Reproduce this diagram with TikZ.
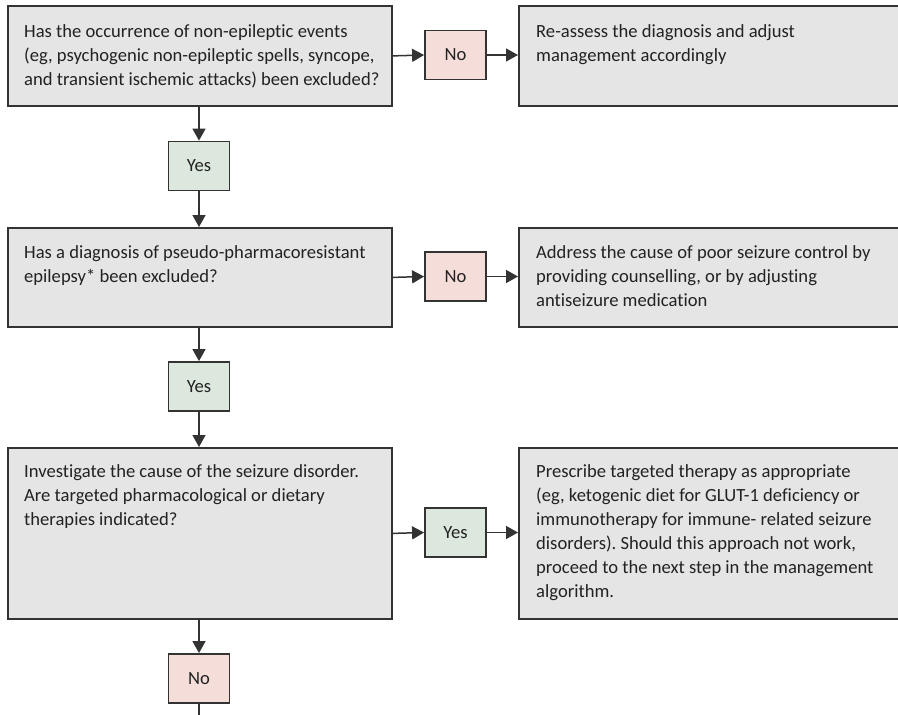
\documentclass[tikz,border=0pt]{standalone}
\usepackage{fontspec}
\setmainfont{Carlito}[Ligatures={NoCommon,NoContextual,NoRare}]
\usetikzlibrary{arrows.meta,calc}
\frenchspacing
\definecolor{boxgray}{HTML}{E4E5E4}
\definecolor{yesgreen}{HTML}{DCE7DE}
\definecolor{nopink}{HTML}{F5DEDA}
\definecolor{edgecol}{HTML}{333333}
\definecolor{txtcol}{HTML}{222222}
\newcommand{\boxtext}[1]{\parbox[t]{360pt}{\raggedright\fontsize{18.6}{24}\selectfont #1}}
\begin{document}
\begin{tikzpicture}[x=1pt,y=-1pt,
  bigbox/.style={draw=edgecol,line width=1.8pt,fill=boxgray,anchor=north west,inner sep=0pt},
  choice/.style={draw=edgecol,line width=1.8pt,minimum width=61pt,minimum height=49pt,inner sep=0pt,
    text=txtcol,font=\fontsize{18.6}{22}\selectfont},
  yesbox/.style={choice,fill=yesgreen},
  nobox/.style={choice,fill=nopink},
  boxtxt/.style={anchor=base west,inner sep=0pt,text=txtcol},
  conn/.style={draw=edgecol,line width=1.5pt,-{Triangle[length=12pt,width=13pt]}},
  plain/.style={draw=edgecol,line width=1.5pt}]
\useasboundingbox (0,0) rectangle (898,715);
\clip (0,0) rectangle (898,715);
% left column boxes
\node[bigbox,minimum width=384pt,minimum height=100pt] (q1) at (7,5) {};
\node[bigbox,minimum width=384pt,minimum height=99pt] (q2) at (7,227) {};
\node[bigbox,minimum width=384pt,minimum height=171pt] (q3) at (7,447) {};
% right column boxes
\node[bigbox,minimum width=400pt,minimum height=100pt] (r1) at (518,5) {};
\node[bigbox,minimum width=400pt,minimum height=99pt] (r2) at (518,227) {};
\node[bigbox,minimum width=400pt,minimum height=171pt] (r3) at (518,447) {};
% texts
\node[boxtxt] (q1t) at (24,37) {\boxtext{Has the occurrence of non-epileptic events\\(eg, psychogenic non-epileptic spells, syncope,\\and transient ischemic attacks) been excluded?}};
\node[boxtxt] (r1t) at (536,37) {\boxtext{Re-assess the diagnosis and adjust\\management accordingly}};
\node[boxtxt] (q2t) at (24,258) {\boxtext{Has a diagnosis of pseudo-pharmacoresistant\\epilepsy* been excluded?}};
\node[boxtxt] (r2t) at (536,258) {\boxtext{Address the cause of poor seizure control by\\providing counselling, or by adjusting\\antiseizure medication}};
\node[boxtxt] (q3t) at (24,477) {\boxtext{Investigate the cause of the seizure disorder.\\Are targeted pharmacological or dietary\\therapies indicated?}};
\node[boxtxt] (r3t) at (536,477) {\boxtext{Prescribe targeted therapy as appropriate\\(eg, ketogenic diet for GLUT-1 deficiency or\\immunotherapy for immune- related seizure\\disorders). Should this approach not work,\\proceed to the next step in the management\\algorithm.}};
% decision boxes
\node[nobox] (n1) at (455.5,55) {No};
\node[yesbox] (y1) at (199,166) {Yes};
\node[nobox] (n2) at (455.5,276.5) {No};
\node[yesbox] (y2) at (199,386.5) {Yes};
\node[yesbox] (y3) at (455.5,532.5) {Yes};
\node[nobox] (n3) at (199,678.5) {No};
\coordinate (bottom) at (199,720);
% connectors
\draw[conn] (q1.east) -- (n1.west);
\draw[conn] (n1.east) -- (r1.west |- n1.east);
\draw[conn] (q1.south -| y1.north) -- (y1.north);
\draw[conn] (y1.south) -- (q2.north -| y1.south);
\draw[conn] (q2.east) -- (n2.west);
\draw[conn] (n2.east) -- (r2.west |- n2.east);
\draw[conn] (q2.south -| y2.north) -- (y2.north);
\draw[conn] (y2.south) -- (q3.north -| y2.south);
\draw[conn] (q3.east) -- (y3.west);
\draw[conn] (y3.east) -- (r3.west |- y3.east);
\draw[conn] (q3.south -| n3.north) -- (n3.north);
\draw[plain] (n3.south) -- (bottom);
\end{tikzpicture}
\end{document}
